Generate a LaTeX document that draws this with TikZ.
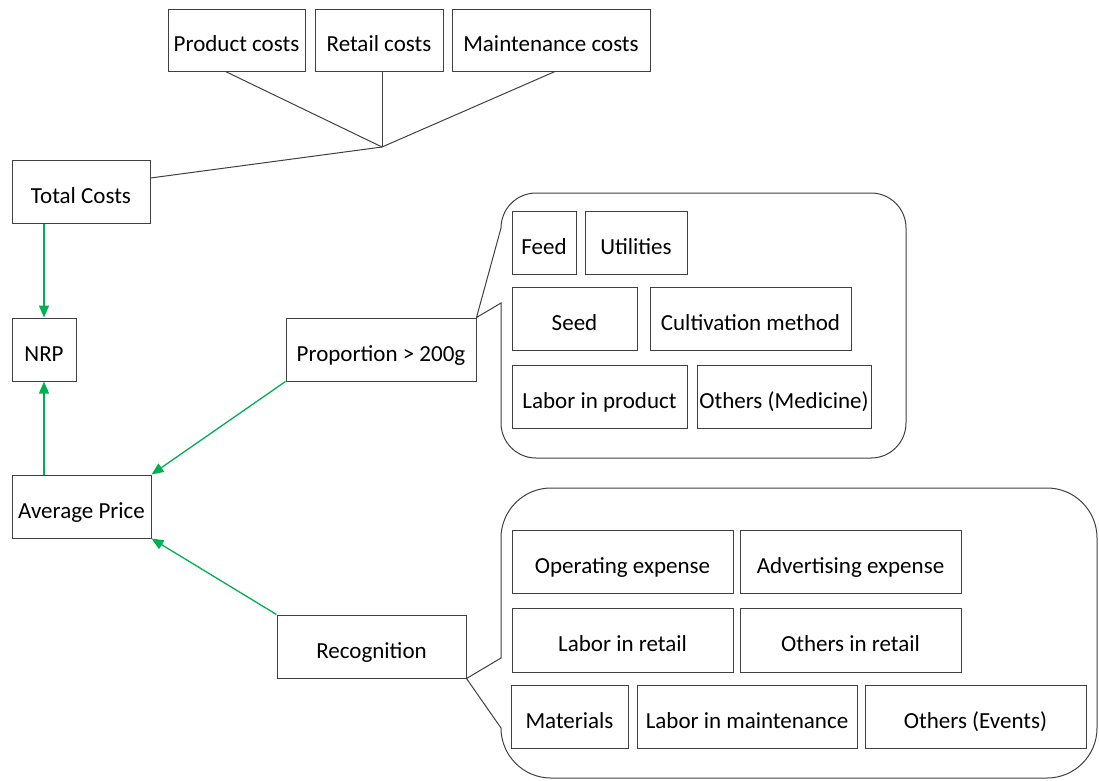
\documentclass[tikz,border=0pt]{standalone}
\usepackage{fontspec}
\setmainfont{Carlito}
\usetikzlibrary{arrows.meta,calc}
\definecolor{boxgray}{HTML}{404040}
\definecolor{arrgreen}{HTML}{00B050}
\tikzset{
  box/.style={draw=boxgray, line width=1pt, inner sep=0pt,
    text height=23pt, text depth=0pt,
    font=\fontsize{23}{27}\selectfont},
  sz/.style 2 args={minimum width=#1pt, minimum height=#2pt},
  tline/.style={draw=boxgray, line width=1pt},
  garrow/.style={draw=arrgreen, line width=1.3pt, -{Triangle[length=12pt,width=10pt]}},
}
\begin{document}
\begin{tikzpicture}[x=1pt,y=-1pt]
\useasboundingbox (0,0) rectangle (1099,780);
% top cost boxes
\node[box, sz={137}{62}] (pc) at (236.5,40) {Product costs};
\node[box, sz={128}{62}] (rc) at (379,40) {Retail costs};
\node[box, sz={198}{62}] (mc) at (551,40) {Maintenance costs};
\node[box, sz={138}{63}] (tc) at (81,191.5) {Total Costs};
\node[box, sz={64}{63}] (nrp) at (44,349.5) {NRP};
\node[box, sz={139}{63}] (ap) at (81.5,506.5) {Average Price};
\node[box, sz={190}{63}] (prop) at (381,349.5) {Proportion > 200g};
\node[box, sz={189}{63}] (rec) at (371.5,646.5) {Recognition};
% tree
\coordinate (j) at (382,147);
\draw[tline] ([xshift=-11pt]pc.south) -- (j);
\draw[tline] (j |- rc.south) -- (j);
\draw[tline] ([xshift=4pt]mc.south) -- (j);
\draw[tline] (j) -- ([yshift=13.5pt]tc.east);
% callout 1
\draw[tline] (prop.north east) -- (501,228) .. controls (501,208.7) and (516.7,193) .. (536,193)
  -- (871,193) .. controls (890.3,193) and (906,208.7) .. (906,228)
  -- (906,423) .. controls (906,442.3) and (890.3,458) .. (871,458)
  -- (536,458) .. controls (516.7,458) and (501,442.3) .. (501,423)
  -- (501,303) -- cycle;
% callout 2
\draw[tline] (rec.south east) -- (501,658) -- (501,538) .. controls (501,510.4) and (523.4,488) .. (551,488)
  -- (1047,488) .. controls (1074.6,488) and (1097,510.4) .. (1097,538)
  -- (1097,728) .. controls (1097,755.6) and (1074.6,778) .. (1047,778)
  -- (551,778) .. controls (523.4,778) and (501,755.6) .. (501,728)
  -- cycle;
% callout 1 items
\node[box, sz={64}{63}] (feed) at (544,242.5) {Feed};
\node[box, sz={102}{63}] (util) at (636,242.5) {Utilities};
\node[box, sz={125}{63}] (seed) at (574.5,318.5) {Seed};
\node[box, sz={201}{63}] (cult) at (750.5,318.5) {Cultivation method};
\node[box, sz={175}{63}] (lip) at (599.5,396.5) {Labor in product};
\node[box, sz={174}{63}] (omed) at (784,396.5) {Others (Medicine)};
% callout 2 items
\node[box, sz={221}{63}] (opex) at (622.5,561.5) {Operating expense};
\node[box, sz={221}{63}] (adv) at (850.5,561.5) {Advertising expense};
\node[box, sz={221}{64}] (lir) at (622.5,640) {Labor in retail};
\node[box, sz={221}{64}] (oir) at (850.5,640) {Others in retail};
\node[box, sz={117}{63}] (mat) at (569.5,716.5) {Materials};
\node[box, sz={220}{63}] (lim) at (747,716.5) {Labor in maintenance};
\node[box, sz={221}{63}] (oev) at (975.5,716.5) {Others (Events)};
% green arrows
\draw[garrow] (nrp.north |- tc.south) -- (nrp.north);
\draw[garrow] (nrp.south |- ap.north) -- (nrp.south);
\draw[garrow] (prop.south west) -- (ap.north east);
\draw[garrow] (rec.north west) -- (ap.south east);
\end{tikzpicture}
\end{document}
